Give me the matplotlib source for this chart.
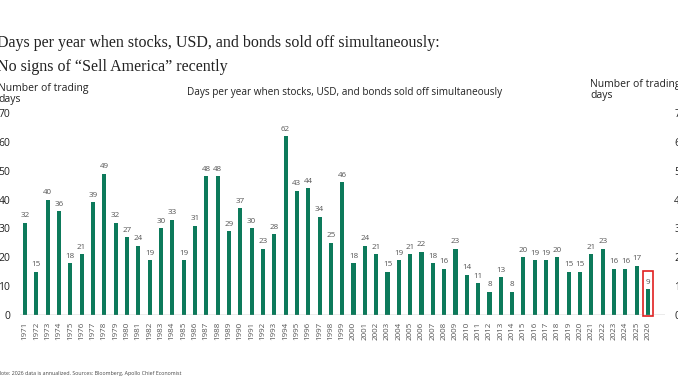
import matplotlib.pyplot as plt
from matplotlib.patches import Rectangle
import numpy as np

years = [str(y) for y in range(1971, 2027)]
days = [32, 15, 40, 36, 18, 21, 39, 49, 32, 27, 24, 19, 30, 33, 19, 31, 48, 48, 29, 37,
        30, 23, 28, 62, 43, 44, 34, 25, 46, 18, 24, 21, 15, 19, 21, 22, 18, 16, 23, 14,
        11, 8, 13, 8, 20, 19, 19, 20, 15, 15, 21, 23, 16, 16, 17, 9]
yticks = [0, 10, 20, 30, 40, 50, 60, 70]

green = '#0d7a5b'
grey = '#555555'
sans = ['Open Sans', 'DejaVu Sans']

fig = plt.figure(figsize=(6.78, 3.81), dpi=100)
ax = fig.add_axes([0.0294, 0.1732, 0.9515, 0.5302])
x = np.arange(len(years))
ax.bar(x, days, width=0.36, color=green)

for xi, v in zip(x, days):
    ax.annotate(str(v), (xi, v), xytext=(0, 2.5), textcoords='offset points',
                ha='center', va='bottom', fontsize=5.8, color=grey, family=sans)

ax.set_xlim(-0.45, 56.5)
ax.set_ylim(0, 70)
ax.set_xticks(x)
ax.set_xticklabels(years, rotation=90, fontsize=5.8, color=grey, family=sans)
ax.set_yticks(yticks)
ax.set_yticklabels([str(t) for t in yticks], fontsize=7.5, color='#222222', family=sans)
ax.tick_params(axis='x', length=0, pad=5)
ax.tick_params(axis='y', length=0, pad=7)
for s in ax.spines.values():
    s.set_visible(False)
ax.axhline(0, color='#999999', lw=1)

ax2 = ax.twinx()
ax2.set_ylim(0, 70)
ax2.set_yticks(yticks)
ax2.set_yticklabels([str(t) for t in yticks], fontsize=7.5, color='#222222', family=sans)
ax2.tick_params(axis='y', length=0, pad=6.5)
for s in ax2.spines.values():
    s.set_visible(False)

# highlight box on the annualized 2026 bar
ax.add_patch(Rectangle((55 - 0.48, -0.4), 0.96, 15.6, fill=False, edgecolor='#e02020',
                       lw=1.2, clip_on=False))

fig.text(-0.004, 1 - 43 / 381, 'Days per year when stocks, USD, and bonds sold off simultaneously:',
         family=['Liberation Serif', 'DejaVu Serif'], fontsize=11.5, color='#222222', va='center')
fig.text(-0.004, 1 - 67 / 381, 'No signs of \u201cSell America\u201d recently',
         family=['Liberation Serif', 'DejaVu Serif'], fontsize=11.5, color='#222222', va='center')

fig.text(345 / 678, 1 - 92 / 381, 'Days per year when stocks, USD, and bonds sold off simultaneously',
         family=sans, fontsize=7.2, color='#222222', ha='center', va='center')
fig.text(-0.003, 1 - 94 / 381, 'Number of trading\ndays', family=sans, fontsize=7.5,
         color='#222222', va='center', linespacing=1.0)
fig.text(590 / 678, 1 - 90 / 381, 'Number of trading\ndays', family=sans, fontsize=7.5,
         color='#222222', va='center', linespacing=1.0)

fig.text(-0.005, 1 - 373 / 381,
         'Note: 2026 data is annualized. Sources: Bloomberg, Apollo Chief Economist',
         family=sans, fontsize=3.8, color='#444444', va='center')

fig.savefig('out.png', dpi=100, facecolor='white')
